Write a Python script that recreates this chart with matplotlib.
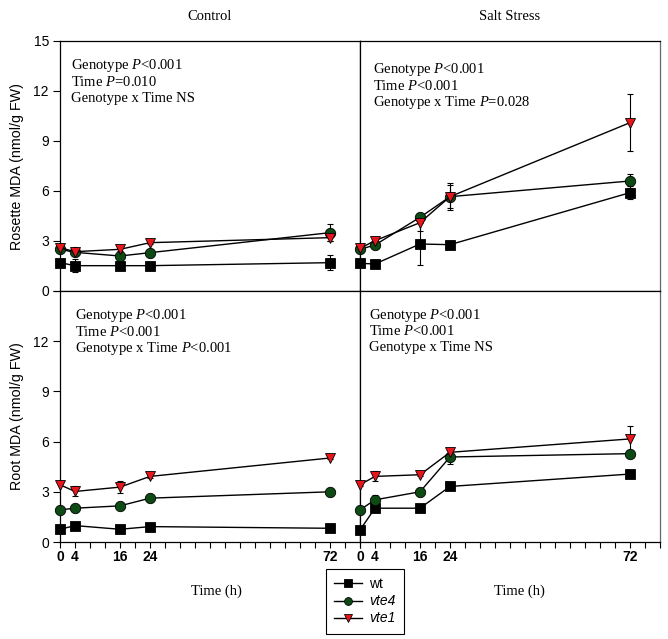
import numpy as np
import matplotlib
matplotlib.use("Agg")
import matplotlib.pyplot as plt

plt.rcParams['mathtext.fontset'] = 'custom'
plt.rcParams['mathtext.rm'] = 'Liberation Serif'
plt.rcParams['mathtext.it'] = 'Liberation Serif:italic'

hours = [0, 4, 16, 24, 72]

# rosette MDA, control
ctl_ros_wt = [1.70, 1.52, 1.52, 1.52, 1.70]
ctl_ros_wt_err = [0.1, 0.4, 0.1, 0.1, 0.45]
ctl_ros_vte4 = [2.50, 2.32, 2.10, 2.30, 3.50]
ctl_ros_vte4_err = [0.1, 0.15, 0.1, 0.1, 0.5]
ctl_ros_vte1 = [2.60, 2.36, 2.50, 2.90, 3.20]
ctl_ros_vte1_err = [0.15, 0.15, 0.1, 0.1, 0.2]

# rosette MDA, salt
salt_ros_wt = [1.66, 1.62, 2.82, 2.78, 5.90]
salt_ros_wt_err = [0.1, 0.1, 1.25, 0.1, 0.4]
salt_ros_vte4 = [2.50, 2.76, 4.42, 5.66, 6.60]
salt_ros_vte4_err = [0.1, 0.1, 0.15, 0.8, 0.4]
salt_ros_vte1 = [2.56, 3.02, 4.10, 5.66, 10.10]
salt_ros_vte1_err = [0.1, 0.1, 0.5, 0.7, 1.7]

# root MDA, control
ctl_root_wt = [0.76, 0.98, 0.76, 0.92, 0.82]
ctl_root_wt_err = [0.05, 0.05, 0.05, 0.05, 0.05]
ctl_root_vte4 = [1.92, 2.02, 2.16, 2.62, 3.00]
ctl_root_vte4_err = [0.05, 0.05, 0.05, 0.05, 0.05]
ctl_root_vte1 = [3.42, 3.02, 3.28, 3.92, 5.02]
ctl_root_vte1_err = [0.1, 0.3, 0.35, 0.1, 0.05]

# root MDA, salt
salt_root_wt = [0.72, 2.02, 2.02, 3.32, 4.06]
salt_root_wt_err = [0.05, 0.05, 0.05, 0.1, 0.2]
salt_root_vte4 = [1.92, 2.52, 3.00, 5.08, 5.28]
salt_root_vte4_err = [0.05, 0.3, 0.05, 0.4, 0.05]
salt_root_vte1 = [3.42, 3.92, 4.02, 5.36, 6.16]
salt_root_vte1_err = [0.05, 0.3, 0.05, 0.2, 0.8]

stats_ctl_ros = ["Genotype $P$<0.001", "Time $P$=0.010", "Genotype x Time NS"]
stats_salt_ros = ["Genotype $P$<0.001", "Time $P$<0.001", "Genotype x Time $P$=0.028"]
stats_ctl_root = ["Genotype $P$<0.001", "Time $P$<0.001", "Genotype x Time $P$<0.001"]
stats_salt_root = ["Genotype $P$<0.001", "Time $P$<0.001", "Genotype x Time NS"]

tick_pos = np.arange(0, 81, 4)
tick_lab = ["0", "4", "16", "24", "72"]

W, H = 668, 639
fig = plt.figure(figsize=(W / 100, H / 100), dpi=100)


def box(x0, y0, x1, y1):
    # pixel box -> figure fraction
    return [x0 / W, 1 - y1 / H, (x1 - x0) / W, (y1 - y0) / H]


ax_tl = fig.add_axes(box(60, 41, 360, 291))
ax_tr = fig.add_axes(box(360, 41, 660, 291))
ax_bl = fig.add_axes(box(60, 291, 360, 542))
ax_br = fig.add_axes(box(360, 291, 660, 542))

styles = [
    ("wt", "s", "black"),
    ("vte4", "o", "#0d4a14"),
    ("vte1", "v", "#e8161c"),
]

# (axes, series, errors, stats lines, text offset from top-left corner in px)
panels = [
    (ax_tl, [ctl_ros_wt, ctl_ros_vte4, ctl_ros_vte1],
     [ctl_ros_wt_err, ctl_ros_vte4_err, ctl_ros_vte1_err], stats_ctl_ros, (11, 25)),
    (ax_tr, [salt_ros_wt, salt_ros_vte4, salt_ros_vte1],
     [salt_ros_wt_err, salt_ros_vte4_err, salt_ros_vte1_err], stats_salt_ros, (13, 29)),
    (ax_bl, [ctl_root_wt, ctl_root_vte4, ctl_root_vte1],
     [ctl_root_wt_err, ctl_root_vte4_err, ctl_root_vte1_err], stats_ctl_root, (15, 25)),
    (ax_br, [salt_root_wt, salt_root_vte4, salt_root_vte1],
     [salt_root_wt_err, salt_root_vte4_err, salt_root_vte1_err], stats_salt_root, (9, 24)),
]

handles = []
for ax, series, errs, lines, (tx, ty) in panels:
    for (name, mk, col), y, e in zip(styles, series, errs):
        ax.errorbar(hours, y, yerr=e, fmt="none", ecolor="black",
                    elinewidth=0.8, capsize=2.5, capthick=0.8, zorder=2)
        h, = ax.plot(hours, y, color="black", lw=1, marker=mk, markersize=7.5,
                     markerfacecolor=col, markeredgecolor="black",
                     markeredgewidth=0.6, zorder=3, label=name,
                     clip_on=False)
        if ax is ax_tl:
            handles.append(h)
    ax.set_xlim(0, 80)
    ax.set_ylim(0, 15)
    for i, line in enumerate(lines):
        ax.annotate(line, xy=(0, 1), xycoords="axes fraction",
                    xytext=(tx, -(ty + 16.3 * i)), textcoords="offset pixels",
                    ha="left", va="center", fontsize=10.5,
                    family="Liberation Serif")
    for s in ax.spines.values():
        s.set_linewidth(0.9)

ax_tr.spines["right"].set_color("#666666")
ax_br.spines["right"].set_color("#666666")

for ax in (ax_tl, ax_tr):
    ax.set_xticks([])

for ax in (ax_tr, ax_br):
    ax.set_yticks([])

for ax in (ax_tl, ax_bl):
    ax.set_yticks([0, 3, 6, 9, 12, 15])
    ax.tick_params(axis="y", direction="out", length=5, width=0.8, pad=3)
    for lab in ax.get_yticklabels():
        lab.set_family("Liberation Sans")
        lab.set_fontsize(10)
ax_bl.set_yticklabels(["0", "3", "6", "9", "12", ""])

for ax, lx in ((ax_bl, 0.52), (ax_br, 0.53)):
    ax.set_xticks(tick_pos)
    labs = [str(t) if str(t) in tick_lab else "" for t in tick_pos]
    ax.set_xticklabels(labs, family="Liberation Sans", fontsize=10,
                       fontweight="bold")
    ax.tick_params(axis="x", direction="out", length=4, width=0.8, pad=2)
    ax.set_xlabel("Time (h)", family="Liberation Serif", fontsize=10.5)
    ax.xaxis.set_label_coords(lx, -0.168)

ax_tl.set_ylabel("Rosette MDA (nmol/g FW)", family="Liberation Sans",
                 fontsize=10.3, labelpad=7)
ax_bl.set_ylabel("Root MDA (nmol/g FW)", family="Liberation Sans",
                 fontsize=10.3, labelpad=7)

ax_tl.set_title("Control", family="Liberation Serif", fontsize=10.5, pad=15)
ax_tr.set_title("Salt Stress", family="Liberation Serif", fontsize=10.5, pad=15)

leg = fig.legend(handles=handles, loc="upper left",
                 bbox_to_anchor=(326 / W, 1 - 569 / H), borderaxespad=0,
                 prop={"family": "Liberation Sans", "size": 10},
                 fancybox=False, edgecolor="black", framealpha=1,
                 handlelength=2.0, handletextpad=0.5, labelspacing=0.22,
                 borderpad=0.6, markerscale=0.75)
leg.get_frame().set_linewidth(0.8)
for t in leg.get_texts()[1:]:
    t.set_style("italic")

fig.savefig("out.png", dpi=100)
